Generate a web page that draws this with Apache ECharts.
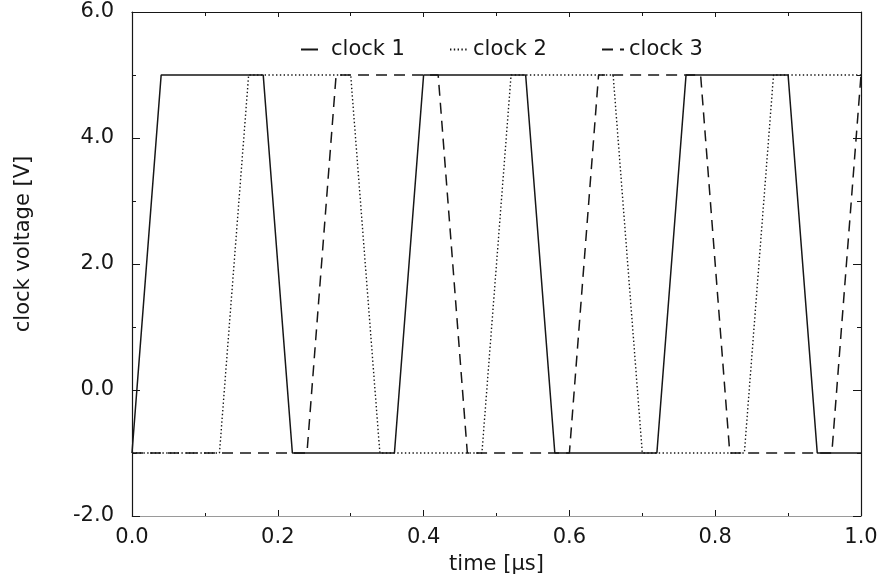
<!DOCTYPE html>
<html>
<head>
<meta charset="utf-8">
<script src="https://cdn.jsdelivr.net/npm/echarts@6/dist/echarts.min.js"></script>
<style>
html,body{margin:0;padding:0;background:#fff;}
#chart{width:888px;height:580px;}
</style>
</head>
<body>
<div id="chart"></div>
<script>
// time in microseconds, voltage in volts
var clock1Time = [0, 0.04, 0.18, 0.22, 0.36, 0.40, 0.54, 0.58, 0.72, 0.76, 0.90, 0.94, 1.0];
var clock1Volt = [-1, 5, 5, -1, -1, 5, 5, -1, -1, 5, 5, -1, -1];
var clock2Time = [0, 0.12, 0.16, 0.30, 0.34, 0.48, 0.52, 0.66, 0.70, 0.84, 0.88, 1.0];
var clock2Volt = [-1, -1, 5, 5, -1, -1, 5, 5, -1, -1, 5, 5];
var clock3Time = [0, 0.24, 0.28, 0.42, 0.46, 0.60, 0.64, 0.78, 0.82, 0.96, 1.0];
var clock3Volt = [-1, -1, 5, 5, -1, -1, 5, 5, -1, -1, 5];
var seriesNames = ['clock 1', 'clock 2', 'clock 3'];
var xTickLabels = ['0.0', '0.2', '0.4', '0.6', '0.8', '1.0'];
var yTickLabels = ['-2.0', '0.0', '2.0', '4.0', '6.0'];

function zip(t, v) { return t.map(function (x, i) { return [x, v[i]]; }); }

var FONT = 'DejaVu Sans';
var FS = 21;
var INK = '#161616';
var chart = echarts.init(document.getElementById('chart'), null, {renderer: 'canvas'});

function xLabel(v) { var s = v.toFixed(1); return xTickLabels.indexOf(s) >= 0 ? s : ''; }
function yLabel(v) { var s = v.toFixed(1); return yTickLabels.indexOf(s) >= 0 ? s : ''; }

var baseLegend = {
  orient: 'horizontal', top: 34, itemHeight: 12,
  textStyle: {fontFamily: FONT, fontSize: FS, color: INK},
  itemStyle: {color: 'transparent', borderWidth: 0, opacity: 0},
  selectedMode: false
};

chart.setOption({
  animation: false,
  backgroundColor: '#fff',
  grid: {left: 132, right: 27, top: 12, bottom: 63, containLabel: false},
  legend: [
    Object.assign({}, baseLegend, {data: [seriesNames[0]], left: 295, itemWidth: 17, textStyle: Object.assign({}, baseLegend.textStyle, {padding: [0, 0, 0, 8]})}),
    Object.assign({}, baseLegend, {data: [seriesNames[1]], left: 444, itemWidth: 18, textStyle: Object.assign({}, baseLegend.textStyle, {padding: [0, 0, 0, 0]})}),
    Object.assign({}, baseLegend, {data: [seriesNames[2]], left: 596, itemWidth: 22, textStyle: Object.assign({}, baseLegend.textStyle, {padding: [0, 0, 0, 0]})})
  ],
  xAxis: [{
    type: 'value', min: 0, max: 1, interval: 0.2, position: 'bottom',
    name: 'time [\u00b5s]', nameLocation: 'middle', nameGap: 38,
    nameTextStyle: {fontFamily: FONT, fontSize: FS, color: INK},
    axisLine: {show: true, onZero: false, lineStyle: {color: '#9a9a9a', width: 1}},
    axisTick: {show: true, inside: true, length: 6, lineStyle: {color: INK}},
    minorTick: {show: true, splitNumber: 2, length: 3, lineStyle: {color: INK}},
    splitLine: {show: false},
    axisLabel: {fontFamily: FONT, fontSize: FS, color: INK, margin: 11, formatter: xLabel}
  }, {
    type: 'value', min: 0, max: 1, interval: 0.2, position: 'top',
    axisLine: {show: true, onZero: false, lineStyle: {color: INK, width: 1.2}},
    axisTick: {show: true, inside: true, length: 5, lineStyle: {color: INK}},
    minorTick: {show: true, splitNumber: 2, length: 4, lineStyle: {color: INK}},
    splitLine: {show: false},
    axisLabel: {show: false}
  }],
  yAxis: [{
    type: 'value', min: -2, max: 6, interval: 2, position: 'left',
    name: 'clock voltage [V]', nameLocation: 'middle', nameGap: 98, nameRotate: 90,
    nameTextStyle: {fontFamily: FONT, fontSize: FS, color: INK, padding: [0, 0, 0, 40]},
    axisLine: {show: true, onZero: false, lineStyle: {color: INK, width: 1.2}},
    axisTick: {show: true, inside: true, length: 8, lineStyle: {color: INK}},
    minorTick: {show: true, splitNumber: 2, length: 4, lineStyle: {color: INK}},
    splitLine: {show: false},
    axisLabel: {fontFamily: FONT, fontSize: FS, color: INK, margin: 18, formatter: yLabel}
  }, {
    type: 'value', min: -2, max: 6, interval: 2, position: 'right',
    axisLine: {show: true, onZero: false, lineStyle: {color: INK, width: 1.2}},
    axisTick: {show: true, inside: true, length: 8, lineStyle: {color: INK}},
    minorTick: {show: true, splitNumber: 2, length: 4, lineStyle: {color: INK}},
    splitLine: {show: false},
    axisLabel: {show: false}
  }],
  series: [{
    name: seriesNames[0], type: 'line', data: zip(clock1Time, clock1Volt),
    symbol: 'none', showSymbol: false, color: INK,
    lineStyle: {color: INK, width: 1.5, type: 'solid'}
  }, {
    name: seriesNames[1], type: 'line', data: zip(clock2Time, clock2Volt),
    symbol: 'none', showSymbol: false, color: INK,
    lineStyle: {color: INK, width: 1.4, type: [1.4, 2.4]}
  }, {
    name: seriesNames[2], type: 'line', data: zip(clock3Time, clock3Volt),
    symbol: 'none', showSymbol: false, color: INK,
    lineStyle: {color: INK, width: 1.5, type: [11, 7]}
  }]
});
</script>
</body>
</html>
